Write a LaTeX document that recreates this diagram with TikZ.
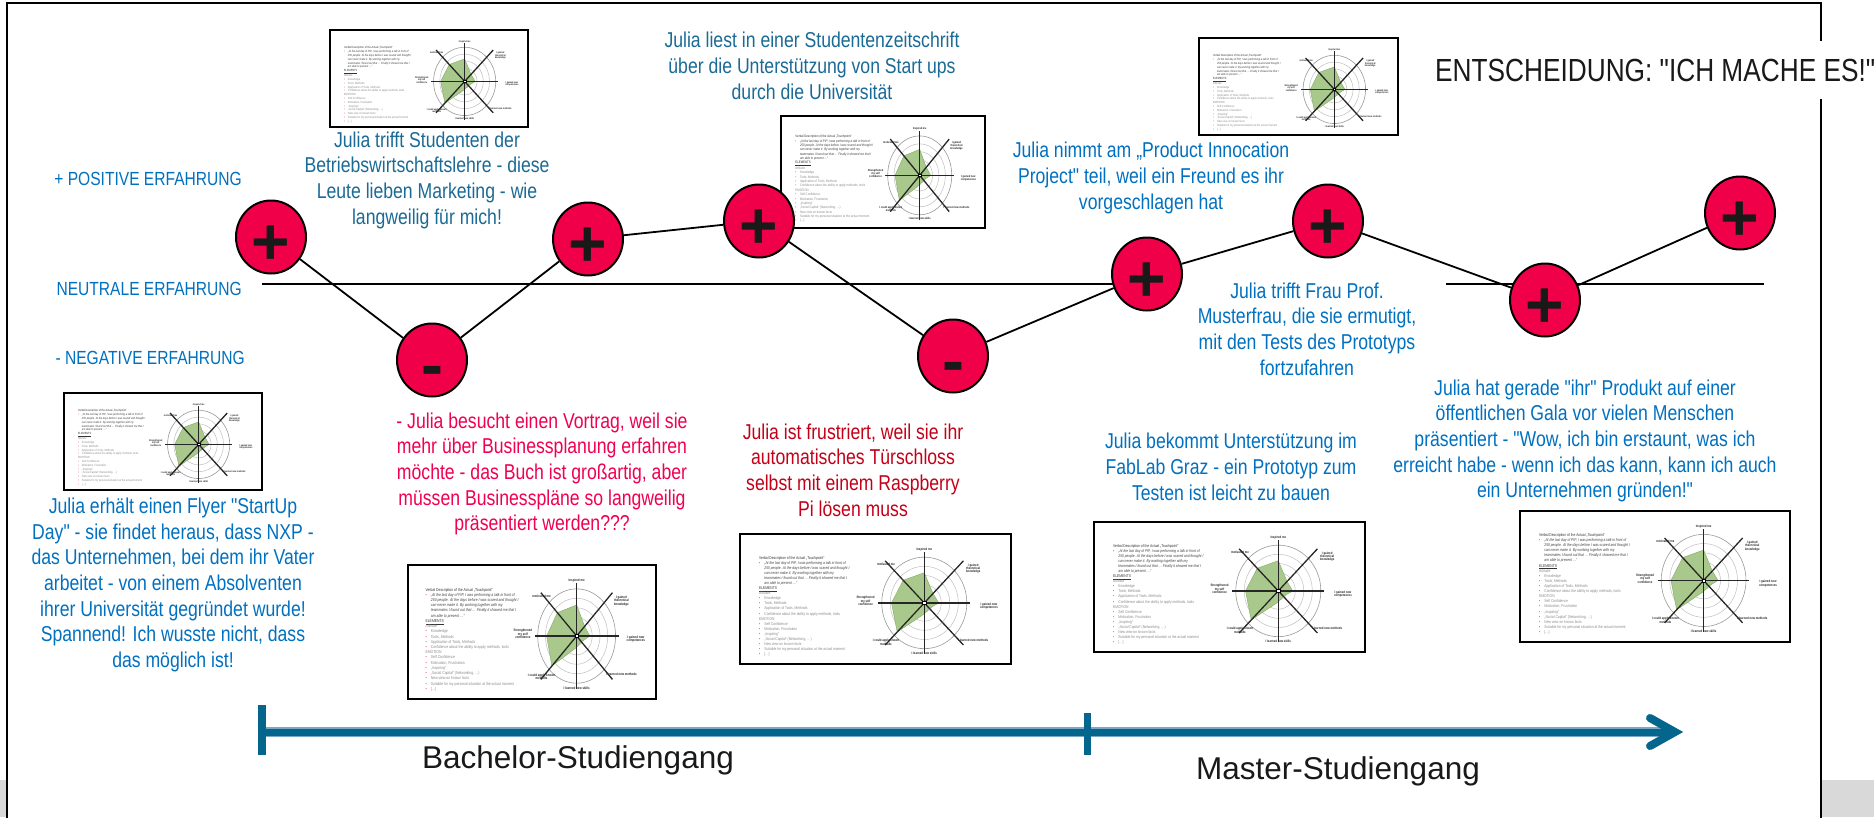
\documentclass[tikz,border=0pt]{standalone}
\usepackage{fontspec}
\setmainfont{Liberation Sans}
\newfontfamily\narrow[FakeStretch=0.82]{Liberation Sans}
\usetikzlibrary{shapes.geometric}
\definecolor{expred}{RGB}{240,0,72}
\definecolor{storyblue}{RGB}{0,112,192}
\definecolor{tealblue}{RGB}{26,106,150}
\definecolor{pinkred}{RGB}{240,0,80}
\definecolor{darkred}{RGB}{196,0,24}
\definecolor{tlblue}{RGB}{5,102,141}
\definecolor{tllight}{RGB}{120,170,200}
\definecolor{bpink}{RGB}{232,40,100}
\definecolor{radgreen}{RGB}{169,201,140}
\definecolor{radgreenline}{RGB}{130,170,100}
\definecolor{stripgray}{RGB}{217,217,217}
\tikzset{
  lbl/.style={font=\narrow\fontsize{19}{23}\selectfont, text=storyblue, anchor=east, inner sep=0pt},
  story/.style={font=\narrow\fontsize{21.5}{25.7}\selectfont, align=center, inner sep=0pt},
  expnode/.style={ellipse, draw=black, line width=2pt, fill=expred, minimum width=70pt, minimum height=73pt, inner sep=0pt},
  sym/.style={font=\fontsize{66}{66}\selectfont\bfseries, inner sep=0pt, text height=43pt, text depth=0pt, text=black!90},
  conn/.style={draw=black, line width=1.8pt},
  neutral/.style={draw=black, line width=2pt},
  cardframe/.style={draw=black, line width=2.2pt, fill=white},
  cardtext/.style={anchor=north west, inner sep=0pt, align=left, text=black!45},
  ring/.style={draw=black!25, line width=0.5pt},
  spoke/.style={draw=black!85, line width=1.3pt},
  rlab/.style={inner sep=0pt, align=center, text=black!85},
  bigtext/.style={font=\fontsize{31.5}{36}\selectfont, text=black!90, inner sep=0pt}
}
\newcommand{\tb}{\makebox[1.3em][l]{\textcolor{bpink}{•}}}
\newcommand{\tin}{\hspace*{1.3em}}
\newcommand{\radarcard}[5]{%
  \pgfmathsetmacro\cW{#3-#1}%
  \pgfmathsetmacro\cH{#4-#2}%
  \pgfmathsetmacro\cF{0.031*\cH}%
  \pgfmathsetmacro\cB{0.039*\cH}%
  \pgfmathsetmacro\cL{0.026*\cH}%
  \pgfmathsetmacro\rX{0.157*\cW}%
  \pgfmathsetmacro\rY{0.352*\cH}%
  \begin{scope}[shift={(#1,#2)}]
    \draw[cardframe] (0,0) rectangle (\cW,\cH);
    \node[cardtext, font=\narrow\fontsize{\cF}{\cB}\selectfont] (#5-txt) at (0.07*\cW,0.17*\cH) {%
      \textcolor{black!80}{Verbal Description of the Actual „Touchpoint“}\\
      \tb\textcolor{black!75}{\textit{„At the last day of PIP, I was performing a talk in front of}}\\
      \tin\textcolor{black!75}{\textit{250 people. At the days before I was scared and thought I}}\\
      \tin\textcolor{black!75}{\textit{can never make it. By working together with my}}\\
      \tin\textcolor{black!75}{\textit{teammates I found out that … Finally it showed me that I}}\\
      \tin\textcolor{black!75}{\textit{am able to present …“}}\\
      \textcolor{black!80}{\underline{ELEMENTS}}\\
      Attitude\\
      \tb Knowledge\\
      \tb Tools, Methods\\
      \tb Application of Tools, Methods\\
      \tb Confidence about the ability to apply methods, tools\\
      EMOTION\\
      \tb Self Confidence\\
      \tb Motivation, Frustration\\
      \tb „Inspiring“\\
      \tb „Social Capital“ (Networking, …)\\
      \tb New view on known facts\\
      \tb Suitable for my personal situation at the actual moment\\
      \tb […]};
    \begin{scope}[shift={(0.68*\cW,0.53*\cH)}, x=\rX pt, y=\rY pt]
      \foreach \rr in {0.2,0.4,0.6,0.8} \draw[ring] (0,0) circle [radius=\rr];
      \draw[draw=black!40, line width=0.6pt] (0,0) circle [radius=1];
      \fill[radgreen, draw=radgreenline, line width=0.4pt] (90:0.66) -- (45:0.29) -- (0:0.34) -- (-45:0.17) -- (-90:0.24) -- (-135:0.9) -- (180:0.77) -- (135:0.7) -- cycle;
      \foreach \ang/\len in {90/1.12,45/1.3,0/1.08,-45/1.3,-90/1.12,-135/1.3,180/1.08,135/1.3}
        \draw[spoke] (0,0) -- (\ang:\len);
      \draw[fill=white, draw=black, line width=0.5pt] (-0.04,-0.035) rectangle (0.04,0.035);
      \begin{scope}[every node/.style={rlab, font=\narrow\fontsize{\cL}{\cL}\selectfont\bfseries}]
        \node (#5-l1) at (0,1.17) {Inspired me};
        \node (#5-l2) at (1.15,0.75) {I gained\\theoretical\\knowledge};
        \node (#5-l3) at (1.52,-0.07) {I gained new\\competences};
        \node (#5-l4) at (1.15,-0.81) {I learned new methods};
        \node (#5-l5) at (0,-1.1) {I learned new skills};
        \node (#5-l6) at (-0.9,-0.86) {I could apply known\\methods};
        \node (#5-l7) at (-1.38,0.04) {Strengthened\\my self\\confidence};
        \node (#5-l8) at (-0.9,0.84) {motivated me};
      \end{scope}
    \end{scope}
  \end{scope}}

\begin{document}
\begin{tikzpicture}[x=1pt,y=-1pt]
\useasboundingbox (0,0) rectangle (1874,817);
% background strips and frame
\fill[stripgray] (0,780) rectangle (5.5,817);
\fill[stripgray] (1822,780) rectangle (1874,817);
\draw[black, line width=1.5pt] (7,830) -- (7,3) -- (1821,3) -- (1821,830);

% thumbnails
\radarcard{330}{30}{528}{127}{ca}
\radarcard{64}{393}{262}{490}{cb}
\radarcard{781}{116}{985}{228}{cc}
\radarcard{1199}{38}{1398}{135}{cd}
\radarcard{408}{565}{656}{699}{ce}
\radarcard{740}{534}{1011}{664}{cf}
\radarcard{1094}{522}{1365}{652}{cg}
\radarcard{1520}{511}{1790}{642}{ch}

% level labels
\node[lbl] (lpos) at (242,179) {+ POSITIVE ERFAHRUNG};
\node[lbl] (lneu) at (242,289) {NEUTRALE ERFAHRUNG};
\node[lbl] (lneg) at (245,358) {- NEGATIVE ERFAHRUNG};

% neutral lines
\coordinate (n1) at (262,284);
\coordinate (n2) at (1147,284);
\coordinate (n3) at (1446,284);
\coordinate (n4) at (1764,284);
\draw[neutral] (n1) -- (n2);
\draw[neutral] (n3) -- (n4);

% experience circles
\node[expnode] (c1) at (271,237) {};
\node[expnode] (c2) at (432,360) {};
\node[expnode] (c3) at (588,239) {};
\node[expnode] (c4) at (759,221) {};
\node[expnode] (c5) at (953,356) {};
\node[expnode] (c6) at (1147,274) {};
\node[expnode] (c7) at (1328,221) {};
\node[expnode] (c8) at (1545,300) {};
\node[expnode] (c9) at (1740,213) {};

\draw[conn] (c1) -- (c2);
\draw[conn] (c2) -- (c3);
\draw[conn] (c3) -- (c4);
\draw[conn] (c4) -- (c5);
\draw[conn] (c5) -- (c6);
\draw[conn] (c6) -- (c7);
\draw[conn] (c7) -- (c8);
\draw[conn] (c8) -- (c9);

\node[sym] (s1) at ([yshift=-6pt]c1.center) {+};
\node[sym] (s2) at ([yshift=-6pt]c2.center) {-};
\node[sym] (s3) at ([yshift=-6pt]c3.center) {+};
\node[sym] (s4) at ([yshift=-6pt]c4.center) {+};
\node[sym] (s5) at ([yshift=-6pt]c5.center) {-};
\node[sym] (s6) at ([yshift=-6pt]c6.center) {+};
\node[sym] (s7) at ([yshift=-6pt]c7.center) {+};
\node[sym] (s8) at ([yshift=-6pt]c8.center) {+};
\node[sym] (s9) at ([yshift=-6pt]c9.center) {+};

% stories
\node[story, text=tealblue] (t1) at (427,180) {Julia trifft Studenten der\\Betriebswirtschaftslehre - diese\\Leute lieben Marketing - wie\\langweilig für mich!};
\node[story, text=tealblue] (t2) at (812,66) {Julia liest in einer Studentenzeitschrift\\über die Unterstützung von Start ups\\durch die Universität};
\node[story, text=storyblue] (t3) at (1151,178) {Julia nimmt am „Product Innocation\\Project" teil, weil ein Freund es ihr\\vorgeschlagen hat};
\node[story, text=storyblue] (t4) at (1307,329) {Julia trifft Frau Prof.\\Musterfrau, die sie ermutigt,\\mit den Tests des Prototyps\\fortzufahren};
\node[story, text=storyblue] (t5) at (1585,441) {Julia hat gerade "ihr" Produkt auf einer\\öffentlichen Gala vor vielen Menschen\\präsentiert - "Wow, ich bin erstaunt, was ich\\erreicht habe - wenn ich das kann, kann ich auch\\ein Unternehmen gründen!"};
\node[story, text=storyblue] (t6) at (1231,467) {Julia bekommt Unterstützung im\\FabLab Graz - ein Prototyp zum\\Testen ist leicht zu bauen};
\node[story, text=darkred] (t7) at (853,470) {Julia ist frustriert, weil sie ihr\\automatisches Türschloss\\selbst mit einem Raspberry\\Pi lösen muss};
\node[story, text=pinkred] (t8) at (542,474) {- Julia besucht einen Vortrag, weil sie\\mehr über Businessplanung erfahren\\möchte - das Buch ist großartig, aber\\müssen Businesspläne so langweilig\\präsentiert werden???};
\node[story, text=storyblue] (t9) at (173,585) {Julia erhält einen Flyer "StartUp\\Day" - sie findet heraus, dass NXP -\\das Unternehmen, bei dem ihr Vater\\arbeitet - von einem Absolventen\\ihrer Universität gegründet wurde!\\Spannend! Ich wusste nicht, dass\\das möglich ist!};

% timeline
\coordinate (tlA) at (262,732);
\coordinate (tlM) at (1087,732);
\coordinate (tlB) at (1675,732);
\draw[tllight, line width=9.5pt] (tlA) -- (tlB);
\draw[tlblue, line width=7pt] (tlA) -- (tlB);
\draw[tlblue, line width=8pt] ([yshift=27pt]tlA) -- ([yshift=-23pt]tlA);
\draw[tlblue, line width=7pt] ([yshift=19pt]tlM) -- ([yshift=-23pt]tlM);
\draw[tlblue, line width=8pt, line cap=round, line join=miter] ([xshift=-25pt,yshift=14pt]tlB) -- (tlB) -- ([xshift=-25pt,yshift=-14pt]tlB);
\node[bigtext] (bach) at (578,760) {Bachelor-Studiengang};
\node[bigtext] (mast) at (1338,771) {Master-Studiengang};

% decision
\node[anchor=west, fill=white, inner xsep=0pt, inner ysep=0pt, minimum height=58pt, font=\narrow\fontsize{32}{38}\selectfont, text=black!90] (dec) at (1435,70) {ENTSCHEIDUNG: "ICH MACHE ES!"};
\end{tikzpicture}
\end{document}
